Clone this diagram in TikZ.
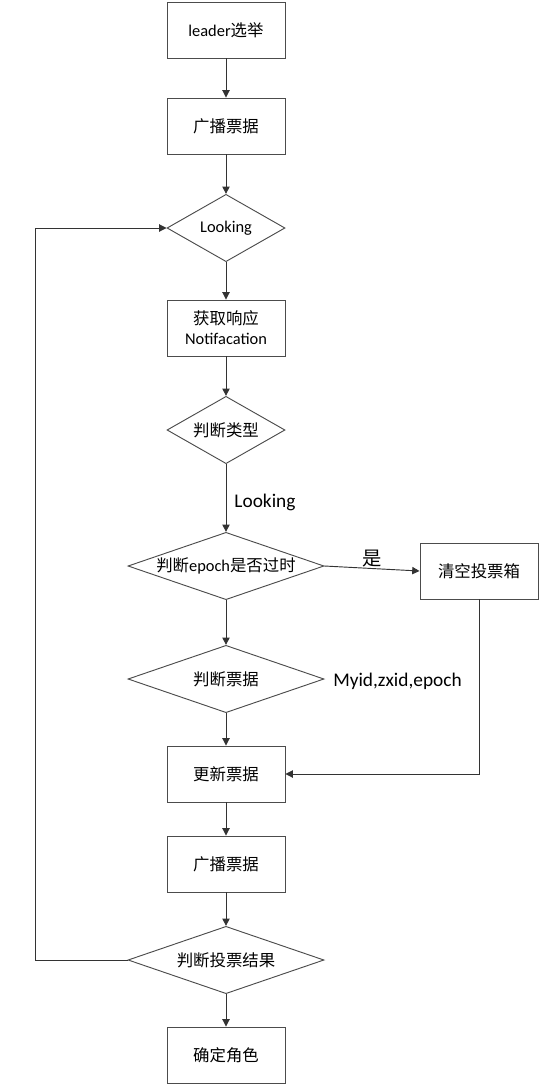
\documentclass[tikz,border=0pt]{standalone}
\usepackage{fontspec}
\setmainfont{Carlito}
\newfontfamily\cjk{Noto Sans CJK SC}
\newcommand{\zh}[1]{{\cjk #1}}
\usetikzlibrary{shapes.geometric,arrows.meta}
\tikzset{
  box/.style={draw=black!70, line width=0.7pt, minimum width=88.5pt, minimum height=42pt,
    inner sep=0pt, align=center, font=\fontsize{12.3}{15}\selectfont},
  decide/.style={diamond, draw=black!70, line width=0.7pt, inner sep=0pt,
    minimum width=88.5pt, minimum height=50.5pt, shape aspect=1.76,
    font=\fontsize{12.3}{15}\selectfont},
  widedecide/.style={decide, minimum width=147pt, shape aspect=2.9},
  flow/.style={draw=black!80, line width=0.7pt, -{Triangle[length=5.5pt,width=5.5pt]}},
  note/.style={font=\fontsize{14.5}{17}\selectfont}
}
\begin{document}
\begin{tikzpicture}[x=0.75pt, y=-0.75pt]
\useasboundingbox (0,0) rectangle (541,1086);
% --- main column ---
\node[box] (lead) at (226,30) {leader\zh{选举}};
\node[box] (bcast) at (226,126) {\zh{广播票据}};
\node[decide] (look) at (226,228) {Looking};
\node[box] (notify) at (226,328) {\zh{获取响应}\\Notifacation};
\node[decide] (kind) at (226,430) {\zh{判断类型}};
\node[widedecide] (epoch) at (226,566) {\zh{判断}epoch\zh{是否过时}};
\node[box] (clear) at (479,571) {\zh{清空投票箱}};
\node[widedecide] (ticket) at (226,679) {\zh{判断票据}};
\node[note, anchor=west, inner sep=0pt] (ids) at (333,681) {Myid,zxid,epoch};
\node[box] (update) at (226,774) {\zh{更新票据}};
\node[box] (bcast2) at (226,864) {\zh{广播票据}};
\node[widedecide] (result) at (226,960) {\zh{判断投票结果}};
\node[box] (role) at (226,1055) {\zh{确定角色}};
% --- connectors ---
\draw[flow] (lead) -- (bcast);
\draw[flow] (bcast) -- (look);
\draw[flow] (look) -- (notify);
\draw[flow] (notify) -- (kind);
\draw[flow] (kind) -- node[note, pos=0.57, anchor=west, xshift=6pt, inner sep=0pt] {Looking} (epoch);
\draw[flow] (epoch.east) -- node[note, midway, above, inner sep=1pt] {\zh{是}} (clear.west);
\draw[flow] (epoch) -- (ticket);
\draw[flow] (ticket) -- (update);
\draw[flow] (clear.south) |- (update.east);
\draw[flow] (update) -- (bcast2);
\draw[flow] (bcast2) -- (result);
\draw[flow] (result) -- (role);
% --- loop back to Looking ---
\coordinate (back) at (35,960);
\draw[flow] (result.west) -- (back) |- (look.west);
\end{tikzpicture}
\end{document}
